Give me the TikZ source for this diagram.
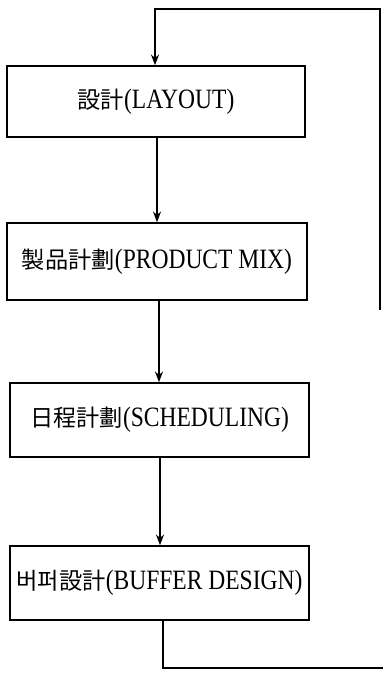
\documentclass[tikz,border=0pt]{standalone}
\usepackage{fontspec}
\setmainfont[FakeStretch=0.84]{Liberation Serif}
\newfontfamily\cjk[Scale=0.83]{Noto Sans CJK KR}
\usetikzlibrary{arrows.meta}
\begin{document}
\begin{tikzpicture}[x=0.75pt,y=-0.75pt,
  box/.style={draw,line width=1.2pt,inner sep=0pt,font=\fontsize{21pt}{24pt}\selectfont},
  conn/.style={line width=1.2pt},
  arr/.style={conn,-{Stealth[length=8pt,width=6pt]}}]
\useasboundingbox (0,0) rectangle (383,679);
\node[box,minimum width=223.5pt,minimum height=53.25pt] (b1) at (156,101.5) {{\cjk 設計}(LAYOUT)};
\node[box,minimum width=225pt,minimum height=57.75pt] (b2) at (157,261.5) {{\cjk 製品計劃}(PRODUCT MIX)};
\node[box,minimum width=224.25pt,minimum height=55.5pt] (b3) at (159.5,420) {{\cjk 日程計劃}(SCHEDULING)};
\node[box,minimum width=224.25pt,minimum height=55.5pt] (b4) at (159.5,583) {{\cjk 버퍼設計}(BUFFER DESIGN)};
\draw[arr] (b1.south -| 157,0) -- (b2.north -| 157,0);
\draw[arr] (b2.south -| 159,0) -- (b3.north -| 159,0);
\draw[arr] (b3.south -| 160,0) -- (b4.north -| 160,0);
\coordinate (lb) at (163,668);
\coordinate (le) at (383,668);
\coordinate (rs) at (380,310);
\coordinate (rt) at (380,9);
\coordinate (lt) at (155,9);
\draw[conn] (b4.south -| lb) -- (lb) -- (le);
\draw[arr] (rs) -- (rt) -- (lt) -- (b1.north -| lt);
\end{tikzpicture}
\end{document}
